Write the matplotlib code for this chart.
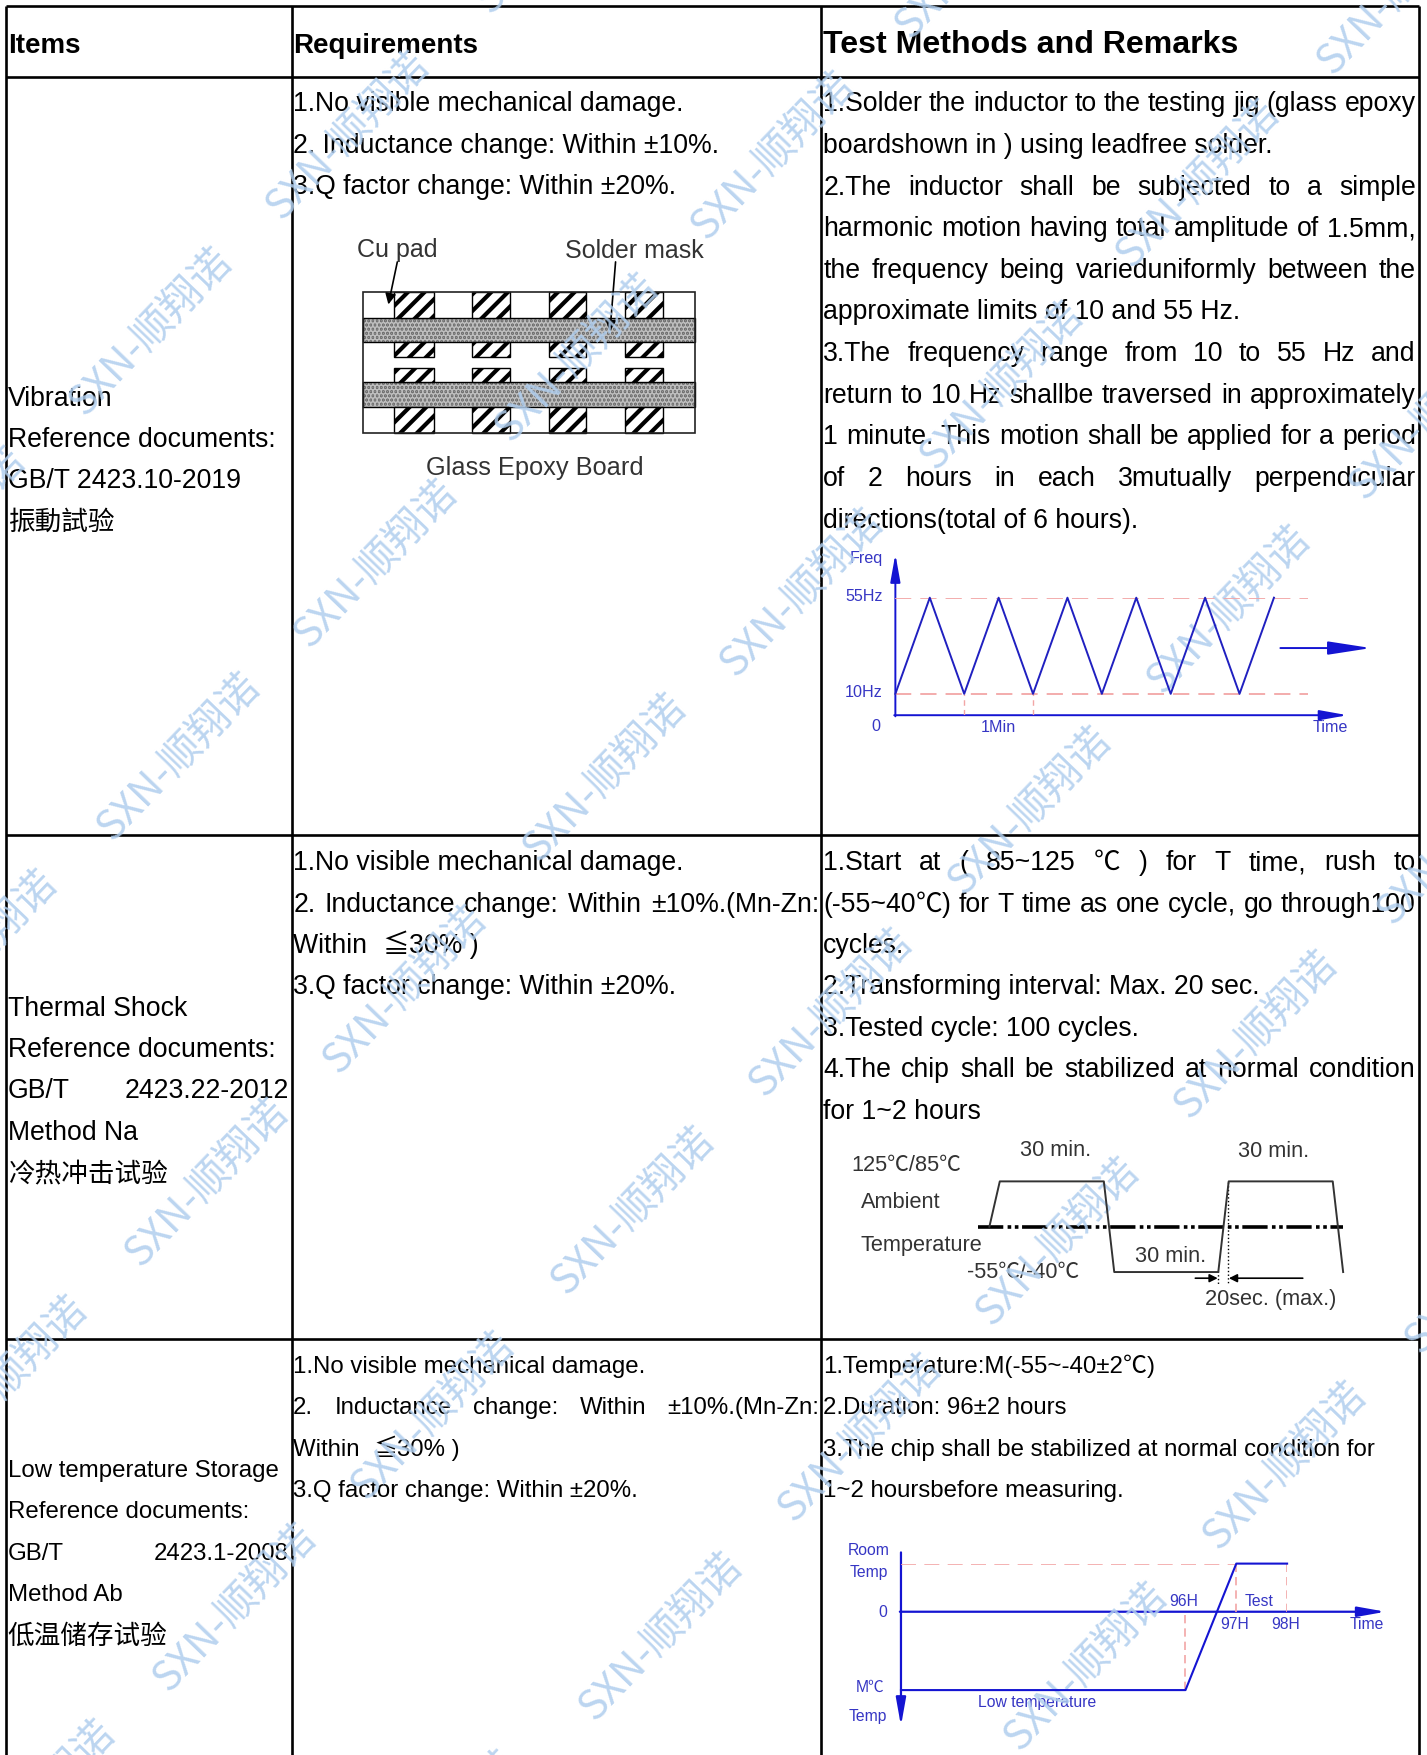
import re
import matplotlib
matplotlib.use('Agg')
import matplotlib.pyplot as plt
from matplotlib.patches import Rectangle

# Table text, one list per cell
header = ['Items', 'Requirements', 'Test Methods and Remarks']

vib_col1 = ['Vibration', 'Reference documents:', 'GB/T 2423.10-2019', '振動試验']
vib_col2 = ['1.No visible mechanical damage.', '2. Inductance change: Within ±10%.', '3.Q factor change: Within ±20%.']
vib_col3 = ['1.Solder the inductor to the testing jig (glass epoxy',
            'boardshown in ) using leadfree solder.',
            '2.The inductor shall be subjected to a simple',
            'harmonic motion having total amplitude of 1.5mm,',
            'the frequency being varieduniformly between the',
            'approximate limits of 10 and 55 Hz.',
            '3.The frequency range from 10 to 55 Hz and',
            'return to 10 Hz shallbe traversed in approximately',
            '1 minute. This motion shall be applied for a period',
            'of 2 hours in each 3mutually perpendicular',
            'directions(total of 6 hours).']
vib_col3_just = [0, 2, 3, 4, 6, 7, 8, 9]

shock_col1 = ['Thermal Shock', 'Reference documents:', 'GB/T 2423.22-2012', 'Method Na', '冷热冲击试验']
shock_col1_just = [2]
shock_col2 = ['1.No visible mechanical damage.', '2. Inductance change: Within ±10%.(Mn-Zn:',
              'Within  ≦30% )', '3.Q factor change: Within ±20%.']
shock_col2_just = [1]
shock_col3 = ['1.Start at ( 85~125 ℃ ) for T time, rush to',
              '(-55~40℃) for T time as one cycle, go through100',
              'cycles.',
              '2.Transforming interval: Max. 20 sec.',
              '3.Tested cycle: 100 cycles.',
              '4.The chip shall be stabilized at normal condition',
              'for 1~2 hours']
shock_col3_just = [0, 1, 5]

low_col1 = ['Low temperature Storage', 'Reference documents:', 'GB/T 2423.1-2008', 'Method Ab']
low_col1_just = [2]
low_col1_cn = ['低温储存试验']
low_col2 = ['1.No visible mechanical damage.', '2. Inductance change: Within ±10%.(Mn-Zn:',
            'Within  ≦30% )', '3.Q factor change: Within ±20%.']
low_col2_just = [1]
low_col3 = ['1.Temperature:M(-55~-40±2℃)', '2.Duration: 96±2 hours',
            '3.The chip shall be stabilized at normal condition for', '1~2 hoursbefore measuring.']

# Sweep curve: half cycles of 1 minute each way, frequency in Hz
sweep_t = [0, 1, 2, 3, 4, 5, 6, 7, 8, 9, 10, 11]
sweep_hz = [10, 55, 10, 55, 10, 55, 10, 55, 10, 55, 10, 55]

# Thermal shock curve: minutes and degrees
shock_min = [-3, 0, 30, 33, 63, 66, 96, 99]
shock_temp = [35, 125, 125, -55, -55, 125, 125, -55]

# Low temperature storage curve: hours and degrees
store_h = [90.4, 96, 97, 98]
store_temp = [-40, -40, 25, 25]

# Watermark centres
wm_x = [135, 160, 185, 210, 311, 336, 362, 387, 515, 540, 565, 590, 690, 716, 742, 768,
        895, 920, 945, 970, 1070, 1098, 1122, 1148, 1250, 1278, 1303, 1328,
        -22, 5, 30, -50, 497, 873, 390]
wm_y = [297, 677, 1057, 1437, 122, 504, 885, 1265, 320, 695, 1082, 1463, 140, 530, 905, 1285,
        345, 725, 1110, 1490, 165, 545, 925, 1310, -8, 372, 752, 1135,
        853, 1233, 1612, 475, -62, -40, 1640]

LATIN_FIRST = ['Liberation Sans', 'Noto Sans CJK SC', 'DejaVu Sans']
CJK_FIRST = ['Noto Sans CJK SC', 'Liberation Sans', 'DejaVu Sans']
plt.rcParams['font.family'] = LATIN_FIRST
plt.rcParams['hatch.linewidth'] = 3
W, H = 1275, 1568
BODY = 19.15
BODY_SMALL = 17.3
BLUE = '#1414d2'
BLUE_TXT = '#3636c4'
PINK = '#f2a6a6'
GREY_TXT = '#333333'

fig = plt.figure(figsize=(14.27, 17.55), dpi=100, facecolor='white')
ax = fig.add_axes([0, 0, 1, 1])
ax.set_xlim(0, W)
ax.set_ylim(H, 0)
ax.axis('off')
renderer = fig.canvas.get_renderer()


def inset(x0, x1, y0, y1, xlim, ylim):
    # axes placed by its corners in the page coordinates, with its own data scale
    a = fig.add_axes([x0 / W, 1 - y1 / H, (x1 - x0) / W, (y1 - y0) / H])
    a.set_xlim(*xlim)
    a.set_ylim(*ylim)
    a.axis('off')
    return a


def run_font(part):
    return CJK_FIRST if part in ('℃', '≦') else LATIN_FIRST


def run_width(part, size):
    # trailing and leading spaces do not count in the extent, so pad with a bar
    t = ax.text(0, 0, '|' + part + '|', fontsize=size, family=run_font(part))
    w = t.get_window_extent(renderer).width
    t.set_text('||')
    w -= t.get_window_extent(renderer).width
    t.remove()
    return w * W / 1427


def split_runs(s):
    # the symbols look wider in the CJK font, so they get their own run
    return [p for p in re.split('([℃≦])', s) if p]


def text_width(s, size):
    return sum(run_width(p, size) for p in split_runs(s))


def put_text(x, y, s, size):
    for part in split_runs(s):
        ax.text(x, y, part, fontsize=size, va='baseline', color='black', family=run_font(part))
        x += run_width(part, size)


def put_lines(lines, x0, x1, y_first, step, size, just=()):
    for i, line in enumerate(lines):
        y = y_first + i * step + size * 0.44
        if i in just:
            words = line.split()
            widths = [text_width(w, size) for w in words]
            gap = (x1 - x0 - sum(widths)) / (len(words) - 1)
            x = x0
            for w, ww in zip(words, widths):
                put_text(x, y, w, size)
                x += ww + gap
        else:
            put_text(x0, y, line, size)


# Table rules
for x in [5, 261, 733.5, 1268]:
    ax.plot([x, x], [5, H], color='black', lw=1.9, solid_capstyle='butt')
for y in [5, 69, 746, 1196]:
    ax.plot([5, 1268], [y, y], color='black', lw=1.9, solid_capstyle='butt')

# Header
ax.text(7, 41, header[0], fontsize=20, fontweight='bold', va='center')
ax.text(262, 41, header[1], fontsize=20, fontweight='bold', va='center')
ax.text(735.5, 40.5, header[2], fontsize=23.1, fontweight='bold', va='center')

# Body cells
put_lines(vib_col1, 7, 258, 354, 37, BODY)
put_lines(vib_col2, 262, 732, 91, 37, BODY)
put_lines(vib_col3, 735.5, 1265, 91, 37.2, BODY, vib_col3_just)
put_lines(shock_col1, 7, 258, 899, 37, BODY, shock_col1_just)
put_lines(shock_col2, 262, 732, 769, 37, BODY, shock_col2_just)
put_lines(shock_col3, 735.5, 1265, 769, 37, BODY, shock_col3_just)
put_lines(low_col1, 7, 258, 1312, 37, BODY_SMALL, low_col1_just)
put_lines(low_col1_cn, 7, 258, 1460, 37, BODY)
put_lines(low_col2, 262, 732, 1219, 37, BODY_SMALL, low_col2_just)
put_lines(low_col3, 735.5, 1265, 1219, 37, BODY_SMALL)

# Glass epoxy board sketch
for y0, y1 in [(284, 306), (341, 364)]:
    ax.add_patch(Rectangle((324.5, y0), 296.5, y1 - y0, facecolor='#6f6f6f', edgecolor='#bdbdbd',
                           hatch='....', lw=0))
    ax.add_patch(Rectangle((324.5, y0), 296.5, y1 - y0, fill=False, edgecolor='black', lw=1))
for x0, x1 in [(352, 388), (422, 456), (490.5, 524), (558.5, 592.5)]:
    for y0, y1 in [(261, 284), (306, 319), (329, 341), (364, 387)]:
        ax.add_patch(Rectangle((x0, y0), x1 - x0, y1 - y0, facecolor='white', edgecolor='black',
                               hatch='//', lw=1))
ax.add_patch(Rectangle((324.5, 261), 296.5, 126, fill=False, edgecolor='#222222', lw=1.2))
for start, end in [((355, 234), (347, 272)), ((550, 234), (545, 296))]:
    ax.annotate('', xy=end, xytext=start,
                arrowprops=dict(arrowstyle='-|>', color='black', lw=1.2, mutation_scale=16,
                                shrinkA=0, shrinkB=0))
ax.text(319, 223.5, 'Cu pad', fontsize=18, color=GREY_TXT, va='center')
ax.text(505, 224.5, 'Solder mask', fontsize=18, color=GREY_TXT, va='center')
ax.text(381, 418.5, 'Glass Epoxy Board', fontsize=18.3, color=GREY_TXT, va='center')

ARROW_AXIS = '-|>,head_length=0.7,head_width=0.125'
ARROW_BIG = '-|>,head_length=1.1,head_width=0.17'

# Sweep chart
vib = inset(800, 1169, 534, 639, (0, 12), (0, 55))
vib.plot([0, 12], [55, 55], color=PINK, lw=1.3, ls=(0, (9, 5)))
vib.plot([0, 12], [10, 10], color=PINK, lw=1.3, ls=(0, (9, 5)))
vib.plot([2, 2], [0, 10], color=PINK, lw=1, ls=(0, (4, 3)))
vib.plot([4, 4], [0, 10], color=PINK, lw=1, ls=(0, (4, 3)))
vib.plot(sweep_t, sweep_hz, color='#2020c0', lw=1.4, clip_on=False)
ax.annotate('', xy=(800, 495), xytext=(800, 640),
            arrowprops=dict(arrowstyle=ARROW_AXIS, color=BLUE, lw=1.4, mutation_scale=24, shrinkA=0, shrinkB=0))
ax.annotate('', xy=(1204, 639), xytext=(799, 639),
            arrowprops=dict(arrowstyle=ARROW_AXIS, color=BLUE, lw=1.4, mutation_scale=24, shrinkA=0, shrinkB=0))
ax.annotate('', xy=(1225, 579), xytext=(1144, 579),
            arrowprops=dict(arrowstyle=ARROW_BIG, color=BLUE, lw=1.4, mutation_scale=24, shrinkA=0, shrinkB=0))
for tx, ty, s in [(774, 499, 'Freq'), (772, 533, '55Hz'), (772, 619, '10Hz'), (783, 649, '0'),
                  (892, 650, '1Min'), (1189, 650, 'Time')]:
    ax.text(tx, ty, s, fontsize=11.6, color=BLUE_TXT, ha='center', va='center')

# Thermal shock chart
shock = inset(884, 1201, 1055.5, 1136.5, (-3, 99.3), (-55, 125))
shock.plot(shock_min, shock_temp, color='#333333', lw=1.4, clip_on=False)
ax.plot([874, 1200], [1096, 1096], color='black', lw=2.6, ls=(0, (7, 1.2, 1, 1, 1, 1)))
ax.plot([1088.5, 1088.5], [1136, 1148], color='black', lw=1, ls=':')
ax.plot([1097.5, 1097.5], [1056, 1148], color='black', lw=1, ls=':')
ax.annotate('', xy=(1088, 1142), xytext=(1068, 1142),
            arrowprops=dict(arrowstyle='-|>', color='black', lw=1.2, mutation_scale=12, shrinkA=0, shrinkB=0))
ax.annotate('', xy=(1098, 1142), xytext=(1164, 1142),
            arrowprops=dict(arrowstyle='-|>', color='black', lw=1.2, mutation_scale=12, shrinkA=0, shrinkB=0))
for tx, ty, s in [(911, 1028, '30 min.'), (1106, 1029, '30 min.'), (1014, 1123, '30 min.'),
                  (761, 1041, '125℃/85℃'), (769, 1074, 'Ambient'), (769, 1113, 'Temperature'),
                  (864, 1137, '-55℃/-40℃'), (1077, 1161, '20sec. (max.)')]:
    ax.text(tx, ty, s, fontsize=15.7, color=GREY_TXT, va='center')

# Low temperature storage chart
store = inset(805, 1150, 1397, 1510, (90.4, 98), (-40, 25))
store.plot([90.4, 97], [25, 25], color=PINK, lw=1.2, ls=(0, (9, 5)))
store.plot([96, 96], [-40, 0], color=PINK, lw=1.2, ls=(0, (5, 3)))
store.plot([97, 97], [0, 25], color=PINK, lw=1.2, ls=(0, (5, 3)))
store.plot([98, 98], [0, 25], color=PINK, lw=1.2, ls=(0, (5, 3)))
store.plot(store_h, store_temp, color=BLUE, lw=1.5, clip_on=False)
ax.annotate('', xy=(805, 1542), xytext=(805, 1387),
            arrowprops=dict(arrowstyle=ARROW_AXIS, color=BLUE, lw=1.6, mutation_scale=24, shrinkA=0, shrinkB=0))
ax.annotate('', xy=(1238, 1440), xytext=(804, 1440),
            arrowprops=dict(arrowstyle=ARROW_AXIS, color=BLUE, lw=1.6, mutation_scale=24, shrinkA=0, shrinkB=0))
for tx, ty, s in [(776, 1385, 'Room'), (776, 1405, 'Temp'), (789, 1441, '0'), (777, 1508, 'M℃'),
                  (775, 1534, 'Temp'), (1058, 1431, '96H'), (1125, 1431, 'Test'), (1103, 1451, '97H'),
                  (1149, 1451, '98H'), (1221, 1451, 'Time'), (927, 1521, 'Low temperature')]:
    ax.text(tx, ty, s, fontsize=11.3, color=BLUE_TXT, ha='center', va='center')

# Watermarks over everything
for x, y in zip(wm_x, wm_y):
    ax.text(x, y, 'SXN-顺翔诺', fontsize=29.5, color='#b0ceee', alpha=0.85, rotation=46,
            rotation_mode='anchor', ha='center', va='center', zorder=10,
            family=['Noto Sans CJK SC', 'DejaVu Sans'], fontweight='light', clip_on=True)

fig.savefig('out.png', dpi=100)
